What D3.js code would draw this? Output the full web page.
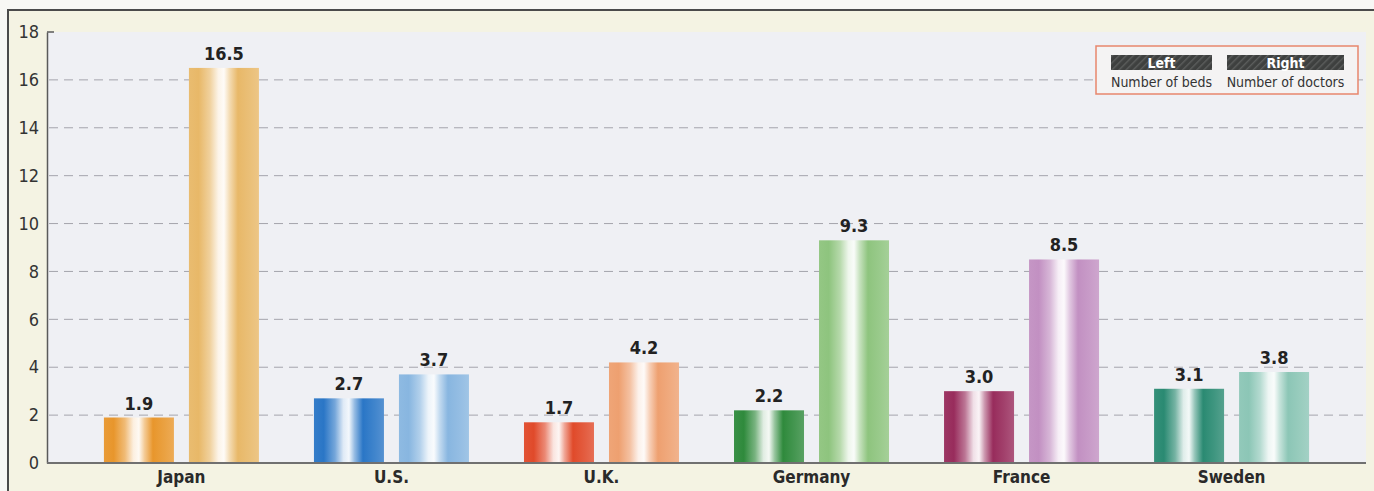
<!DOCTYPE html>
<html>
<head>
<meta charset="utf-8">
<script src="https://cdn.jsdelivr.net/npm/d3@7/dist/d3.min.js"></script>
<style>
  html, body { margin: 0; padding: 0; background: #f7f7f4; }
  svg { display: block; }
  text { font-family: "Liberation Sans Narrow", "Arial Narrow", "DejaVu Sans Condensed", sans-serif; }
</style>
</head>
<body>
<svg id="chart" width="1374" height="491"></svg>
<script>
// Hospital beds and doctors by country
const countries = ["Japan", "U.S.", "U.K.", "Germany", "France", "Sweden"];
const beds = [1.9, 2.7, 1.7, 2.2, 3.0, 3.1];
const doctors = [16.5, 3.7, 4.2, 9.3, 8.5, 3.8];
const yTicks = [0, 2, 4, 6, 8, 10, 12, 14, 16, 18];
const bedColors = ["#e8962c", "#2a76c6", "#e04a2a", "#2f8a3c", "#982c5c", "#2a8a72"];
const doctorColors = ["#e8b868", "#88b6e0", "#eea070", "#8ec47e", "#c290c2", "#8cc6b6"];
const seriesKeys = ["beds", "doctors"];
const legendTop = ["Left", "Right"];
const legendBottom = ["Number of beds", "Number of doctors"];

const svg = d3.select("#chart");
const W = 1374, H = 491;
const plot = { left: 47, right: 1366, top: 32, bottom: 463 };
const FONT = "'Liberation Sans Narrow', 'Arial Narrow', 'DejaVu Sans Condensed', sans-serif";

const defs = svg.append("defs");

// frame with cream fill
svg.append("rect").attr("x", 8).attr("y", 10).attr("width", W).attr("height", H)
  .attr("fill", "#f4f3e3").attr("stroke", "#4a4a4a").attr("stroke-width", 2);

// plot area fill
svg.append("rect").attr("x", plot.left).attr("y", plot.top)
  .attr("width", plot.right - plot.left).attr("height", plot.bottom - plot.top)
  .attr("fill", "#eff0f4");

const y = d3.scaleLinear().domain([0, 18]).range([plot.bottom, plot.top]);
const x0 = d3.scaleBand().domain(countries).range([plot.left, plot.right])
  .paddingInner(0.262).paddingOuter(0.271);
const x1 = d3.scaleBand().domain(seriesKeys).range([0, x0.bandwidth()]).paddingInner(0.1765);

// dashed grid lines
svg.append("g").selectAll("line").data(yTicks.filter(t => t > 0 && t < 18)).join("line")
  .attr("x1", plot.left + 2).attr("x2", plot.right)
  .attr("y1", d => y(d)).attr("y2", d => y(d))
  .attr("stroke", "#a4a4ac").attr("stroke-width", 1).attr("stroke-dasharray", "9,6");

// y axis
const yAxis = svg.append("g").attr("transform", `translate(${plot.left},0)`)
  .call(d3.axisLeft(y).tickValues(yTicks).tickSize(0).tickPadding(8));
yAxis.select(".domain").attr("stroke", "#5a5a5a").attr("stroke-width", 1.5);
yAxis.selectAll("text").attr("font-size", 18).attr("fill", "#333").style("font-family", FONT);
svg.append("line").attr("x1", plot.left).attr("x2", plot.left + 7)
  .attr("y1", y(18)).attr("y2", y(18)).attr("stroke", "#5a5a5a").attr("stroke-width", 1.5);

// cylinder-style gradient per colour
function gradient(id, color) {
  const mix = t => d3.interpolateRgb(color, "#ffffff")(t);
  const g = defs.append("linearGradient").attr("id", id)
    .attr("x1", "0%").attr("x2", "100%").attr("y1", "0%").attr("y2", "0%");
  [[0, mix(0.05)], [0.14, color], [0.3, mix(0.35)], [0.42, mix(0.85)], [0.5, mix(0.95)],
   [0.58, mix(0.5)], [0.7, color], [0.86, mix(0.1)], [1, mix(0.2)]]
    .forEach(([o, col]) => g.append("stop").attr("offset", o).attr("stop-color", col));
  return `url(#${id})`;
}

const rows = countries.map((c, i) => ({
  country: c,
  values: [
    { key: "beds", value: beds[i], color: bedColors[i] },
    { key: "doctors", value: doctors[i], color: doctorColors[i] }
  ]
}));

const groups = svg.append("g").selectAll("g").data(rows).join("g")
  .attr("transform", d => `translate(${x0(d.country)},0)`);

groups.selectAll("rect").data((d, i) => d.values.map((v, j) => ({ ...v, gid: `g${i}_${j}` }))).join("rect")
  .attr("x", d => x1(d.key)).attr("width", x1.bandwidth())
  .attr("y", d => y(d.value)).attr("height", d => y(0) - y(d.value))
  .attr("fill", d => gradient(d.gid, d.color));

groups.selectAll("text.val").data(d => d.values).join("text").attr("class", "val")
  .attr("x", d => x1(d.key) + x1.bandwidth() / 2).attr("y", d => y(d.value) - 8)
  .attr("text-anchor", "middle").attr("font-size", 18).attr("font-weight", "bold")
  .attr("fill", "#222").text(d => d.value.toFixed(1));

// baseline
svg.append("line").attr("x1", plot.left).attr("x2", plot.right)
  .attr("y1", y(0)).attr("y2", y(0)).attr("stroke", "#707070").attr("stroke-width", 2);

// category labels
svg.append("g").selectAll("text").data(countries).join("text")
  .attr("x", d => x0(d) + x0.bandwidth() / 2).attr("y", 483)
  .attr("text-anchor", "middle").attr("font-size", 17).attr("font-weight", "bold")
  .attr("fill", "#2a2a2a").text(d => d);

// legend
const pat = defs.append("pattern").attr("id", "hatch").attr("patternUnits", "userSpaceOnUse")
  .attr("width", 5).attr("height", 5).attr("patternTransform", "rotate(45)");
pat.append("rect").attr("width", 5).attr("height", 5).attr("fill", "#3e403f");
pat.append("rect").attr("width", 1.4).attr("height", 5).attr("fill", "#5c5e5d");

const legend = svg.append("g");
legend.append("rect").attr("x", 1096).attr("y", 46).attr("width", 262).attr("height", 48)
  .attr("fill", "#f4f3f3").attr("stroke", "#e8866c").attr("stroke-width", 1.5);
const lx = [[1111, 101], [1227, 117]];
legendTop.forEach((t, i) => {
  const [bx, bw] = lx[i];
  legend.append("rect").attr("x", bx).attr("y", 55).attr("width", bw).attr("height", 15)
    .attr("fill", "url(#hatch)");
  legend.append("text").attr("x", bx + bw / 2).attr("y", 68).attr("text-anchor", "middle")
    .attr("font-size", 14).attr("font-weight", "bold").attr("fill", "#ffffff").text(t);
  legend.append("text").attr("x", bx + bw / 2).attr("y", 87).attr("text-anchor", "middle")
    .attr("font-size", 14).attr("fill", "#333").text(legendBottom[i]);
});
</script>
</body>
</html>
